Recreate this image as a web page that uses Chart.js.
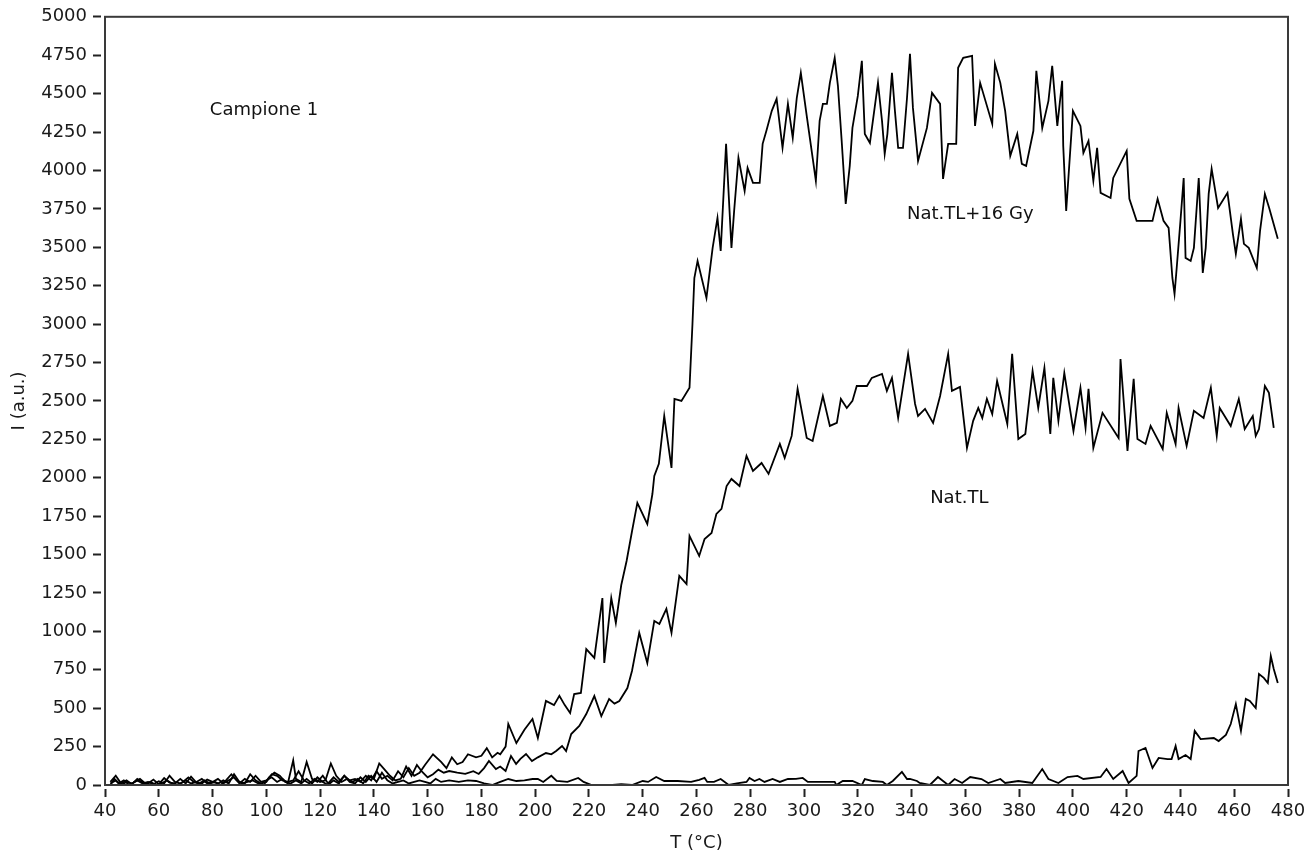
<!DOCTYPE html>
<html>
<head>
<meta charset="utf-8">
<title>Campione 1</title>
<script src="https://cdn.jsdelivr.net/npm/chart.js@4/dist/chart.umd.min.js"></script>
<style>
  html, body { margin: 0; padding: 0; background: #fff; }
  #chart { display: block; }
</style>
</head>
<body>
<canvas id="chart" width="1314" height="856"></canvas>
<script>
// axis ticks
const xTicksMin = 40, xTicksMax = 480, xStep = 20;
const yTicksMin = 0, yTicksMax = 5000, yStep = 250;

// Nat.TL+16 Gy  (T in °C, I in a.u.)
const tA = [42,44,46,48,50,52,54,56,58,60,62,64,66,68,70,72,74,76,78,80,82,84,86,88,90,92,94,96,98,100,
  102,104,106,108,110,111,113,115,117,119,121,123,125,127,129,131,133,135,137,139,141,143,145,147,149,151,153,155,157,159,
  162,165,167,169,171,173,175,178,180,182,184,186,187,189,190,193,196,199,201,204,207,209,211,213,214.5,217,219,222,225,225.7,
  228.3,230,232,234,236,238,241.7,243.6,244.3,246,248,250.7,251.8,254.4,257.4,258.5,259.2,260.4,263.7,266,267.8,269,271,273,274,275.6,
  277.9,279,281,283.5,284.6,286,288,289.8,292,294,295.8,297.3,298.8,301,304.4,305.8,307,308.5,309.6,311.4,312.6,314,315.5,317,
  318,320,321.5,322.6,324.5,325.6,327.5,329,330,331,332.7,333.8,335,336.8,338.3,339.4,340.5,342.4,345.7,347.6,350.6,351.7,353.6,356.6,
  357.3,359.2,362.5,363.6,365.5,370,371,373,374.8,376.7,379.3,381,382.6,385.3,386.4,388.6,390.9,392.3,394.2,396,396.4,397.5,399,400,
  402.8,403.9,405.8,407.6,409,410.3,414,415,420,421,423.7,426,429.6,431.5,433.7,435.6,437,437.8,438.6,440,441.2,441.9,443.8,445,
  446.8,448.3,449.4,450.5,451.6,454,457.5,459.5,460.6,462.5,463.6,465.4,468.4,469.6,471.4,473,476.2];
const iA = [20,60,10,30,5,40,15,10,35,5,45,15,10,40,10,55,15,10,35,20,40,10,30,50,10,40,20,60,20,30,
  50,20,40,10,160,40,20,150,40,20,60,10,50,20,60,30,40,20,60,30,90,40,60,30,90,50,110,60,80,130,
  200,150,110,180,135,150,200,180,190,240,180,210,200,250,397,273,360,430,306,547,520,580,520,469,592,599,885,827,1217,794,
  1217,1055,1300,1458,1650,1836,1699,1894,2011,2090,2402,2064,2513,2500,2585,3001,3300,3411,3170,3496,3691,3476,4173,3496,3737,4082,
  3867,4017,3919,3919,4173,4258,4388,4466,4147,4433,4212,4473,4635,4355,3932,4323,4433,4433,4570,4733,4551,4192,3782,4030,
  4277,4485,4713,4238,4179,4323,4570,4323,4108,4238,4635,4388,4147,4147,4473,4759,4407,4062,4277,4505,4433,3945,4173,4173,
  4668,4733,4746,4290,4570,4303,4694,4570,4388,4095,4238,4043,4030,4258,4648,4277,4453,4681,4290,4583,4160,3737,4127,4388,
  4290,4114,4192,3932,4147,3854,3821,3951,4127,3815,3672,3672,3672,3815,3672,3626,3300,3196,3365,3672,3951,3431,3411,3496,
  3951,3333,3496,3847,4010,3756,3854,3587,3457,3685,3522,3496,3365,3607,3847,3756,3555];

// Nat.TL
const tB = [42,44,46,48,50,52,54,56,58,60,62,64,66,68,70,72,74,76,78,80,82,84,86,88,90,92,94,96,98,100,
  102,104,106,108,110,112,114,116,118,120,122,124,126,128,130,132,134,136,138,140,142,144,146,148,150,152,154,156,158,160,
  162,164,166,168,171,174,177,179,181,182.8,185.4,187,189,191,192.9,194.5,196.6,198.8,201,204,206,207.8,210,211.5,213.4,216.4,219,222,224.6,227.5,
  229.5,231.3,234.3,236,238.7,241.7,244.3,246.2,248.8,250.7,253.6,256.3,257.4,261,263,265.6,267.4,269.3,271.2,273,276,278.6,281,284.2,
  286.8,291,292.8,295.4,297.6,301,303.2,307,309.6,312.2,313.7,315.9,318,319.6,323.4,325.2,329,330.8,332.7,335,338.7,341.3,342.4,345,
  348,350.6,353.6,355,358,360.6,362.9,364.8,366.3,368,370,371.8,375.6,377.4,379.7,382.3,385,387.1,389.4,391.6,392.7,394.6,396.8,400.2,
  402.8,404.7,405.8,407.6,411,417,417.7,420.3,422.6,424,427,428.9,433.4,434.9,438.2,439.3,442.3,445,448.6,451.3,453.5,454.6,458.7,461.7,
  463.9,466.9,468,469.2,471.4,472.9,474.7];
const iB = [10,30,0,20,10,30,10,20,5,25,10,60,20,10,30,10,20,40,10,20,10,30,10,70,20,10,70,30,10,20,
  70,60,30,20,30,90,30,10,40,20,30,140,60,20,40,20,40,10,60,40,140,100,60,30,40,120,60,130,85,50,
  70,100,80,91,80,72,90,72,110,156,104,120,91,189,137,170,202,156,180,208,200,221,254,221,332,384,462,579,449,560,
  530,547,631,742,990,794,1068,1048,1146,990,1361,1308,1621,1491,1601,1640,1764,1797,1946,1992,1946,2142,2044,2096,
  2025,2220,2129,2272,2578,2259,2239,2532,2337,2357,2513,2454,2500,2597,2597,2650,2676,2565,2650,2389,2806,2480,2402,2448,
  2357,2532,2806,2565,2591,2194,2370,2454,2389,2513,2415,2630,2350,2806,2252,2285,2695,2454,2715,2285,2650,2370,2682,2304,
  2585,2324,2578,2194,2422,2259,2773,2174,2643,2252,2220,2337,2187,2422,2220,2454,2207,2435,2389,2585,2272,2454,2337,2513,
  2317,2402,2272,2317,2597,2552,2324];

// third (low) curve
const tC = [42,43.5,45,47,49,51,53,55,57,59,61,63,65,67,69,71,73,75,77,79,81,83,85,87,89,91,93,95,97,99,
  101,103,105,107,109,111,113,115,117,119,121,123,125,127,129,131,133,135,137,139,141,143,145,147,149,151,153,155,157,159,
  161,163,165,168,171.6,175,178,181,184,187,190,193,196,199,201,203,206,208,212,216,218,221,225,228.7,232,236,240,242,245,248,
  253,258,261,263,264,266.5,269,272,275,278.6,279.7,281.6,283.4,285.3,288.3,291,294,297,299.5,301.4,306,311.4,312,314.4,
  318,321.5,322.6,325.6,329.3,330.8,333,336.4,338.3,339.4,342,343,346.8,349.8,353.6,356,358.8,361.8,366,368.5,373,374.8,379.7,384.9,
  388.6,390.9,394.6,398,401.7,403.9,410.3,412.5,415,418.5,420.7,423.7,424.4,427,429.6,431.9,435.2,436.7,438.2,439.3,441.9,443.8,445.3,447.5,
  452.4,454.2,456.9,458.7,460.6,462.5,464.3,465.8,468,469.2,471,472.5,473.6,474.7,476.2];
const iC = [0,40,10,30,0,20,40,10,20,0,10,30,10,0,20,50,20,10,30,10,20,0,30,70,30,10,20,30,10,0,
  50,80,60,20,10,30,10,40,10,50,20,0,30,10,60,20,10,50,20,60,20,80,30,10,20,30,10,20,30,20,
  10,40,20,30,20,30,26,10,0,20,39,26,30,39,39,20,60,26,20,46,20,0,0,0,5,0,26,20,52,26,
  26,20,33,46,20,20,39,0,10,20,46,26,39,20,39,20,39,40,46,20,20,20,0,26,
  26,0,39,26,20,0,26,85,39,39,26,13,0,52,0,39,13,52,39,13,39,13,26,13,
  104,39,13,52,59,39,52,104,39,91,13,59,221,241,111,176,169,169,254,169,195,169,352,299,
  306,286,326,397,527,352,560,547,501,722,697,664,840,755,664];

const seriesLabels = ["Nat.TL+16 Gy", "Nat.TL", "fondo"];
const xTitle = "T (°C)";
const yTitle = "I (a.u.)";

// text labels placed in data units
const notes = [
  { text: "Campione 1", x: 79, y: 4390 },
  { text: "Nat.TL+16 Gy", x: 338.3, y: 3717 },
  { text: "Nat.TL", x: 346.9, y: 1868 },
];

const FONT = "'DejaVu Sans', Verdana, sans-serif";
const toXY = (ts, vs) => ts.map((t, i) => ({ x: t, y: vs[i] }));

const lineStyle = {
  borderColor: "#000",
  borderWidth: 1.8,
  pointRadius: 0,
  tension: 0,
  fill: false,
};

// plot frame + in-chart text
const framePlugin = {
  id: "frame",
  afterDatasetsDraw(chart) {
    const { ctx, chartArea: a, scales } = chart;
    ctx.save();
    ctx.strokeStyle = "#3a3a3a";
    ctx.lineWidth = 2;
    ctx.strokeRect(a.left, a.top, a.right - a.left, a.bottom - a.top);
    ctx.fillStyle = "#111";
    ctx.font = "18px " + FONT;
    ctx.textAlign = "left";
    ctx.textBaseline = "middle";
    notes.forEach((n) => {
      ctx.fillText(n.text, scales.x.getPixelForValue(n.x), scales.y.getPixelForValue(n.y));
    });
    ctx.restore();
  },
};

const plain = (v) => String(v);

new Chart(document.getElementById("chart"), {
  type: "line",
  data: {
    datasets: [
      { label: seriesLabels[0], data: toXY(tA, iA), ...lineStyle },
      { label: seriesLabels[1], data: toXY(tB, iB), ...lineStyle },
      { label: seriesLabels[2], data: toXY(tC, iC), ...lineStyle },
    ],
  },
  options: {
    responsive: false,
    animation: false,
    layout: { padding: { left: 0, top: 16, right: 26, bottom: 0 } },
    plugins: { legend: { display: false }, tooltip: { enabled: false } },
    scales: {
      x: {
        type: "linear",
        min: xTicksMin,
        max: xTicksMax,
        border: { display: false },
        grid: {
          drawOnChartArea: false,
          drawTicks: true,
          tickLength: 12,
          tickWidth: 2,
          tickColor: "#222",
          tickBorderDash: [0, 4, 8, 100],
        },
        ticks: { stepSize: xStep, color: "#1a1a1a", font: { family: FONT, size: 18 }, padding: 4, maxRotation: 0, callback: plain },
        title: { display: true, text: xTitle, color: "#1a1a1a", font: { family: FONT, size: 18 }, padding: { top: 0, bottom: 2 } },
        afterFit(scale) { scale.height = 71; },
      },
      y: {
        min: yTicksMin,
        max: yTicksMax,
        border: { display: false },
        grid: {
          drawOnChartArea: false,
          drawTicks: true,
          tickLength: 12,
          tickWidth: 2,
          tickColor: "#222",
          tickBorderDash: [8, 100],
        },
        ticks: { stepSize: yStep, color: "#1a1a1a", font: { family: FONT, size: 18 }, padding: 6, callback: plain },
        title: { display: true, text: yTitle, color: "#1a1a1a", font: { family: FONT, size: 18 }, padding: { top: 9, bottom: 0 } },
        afterFit(scale) { scale.width = 105; },
      },
    },
  },
  plugins: [framePlugin],
});
</script>
</body>
</html>
